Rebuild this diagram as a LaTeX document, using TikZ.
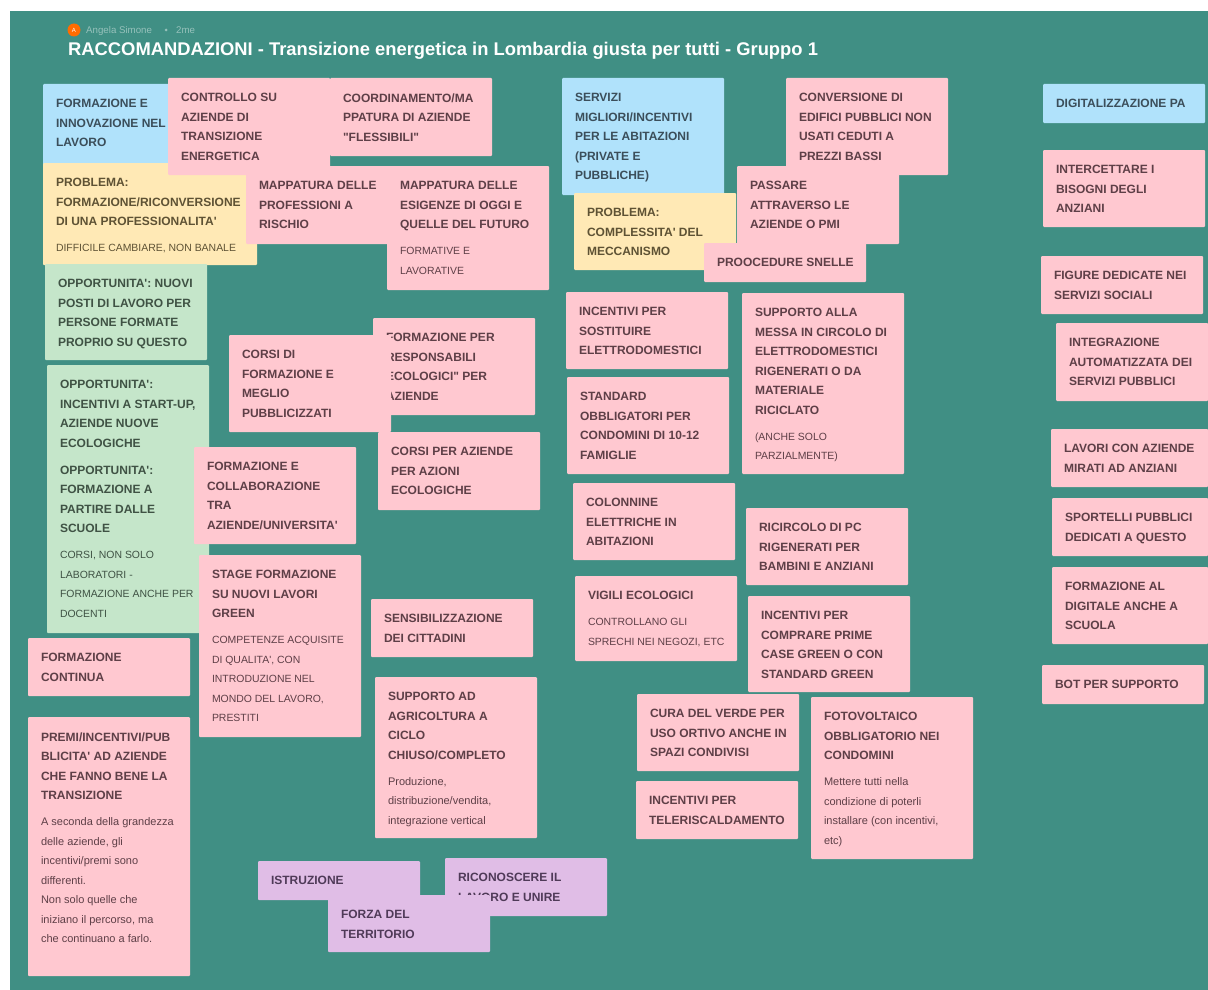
\documentclass[tikz,border=0pt]{standalone}
\usepackage{fontspec}
\setmainfont{Liberation Sans}[Ligatures=TeXOff]
\definecolor{bgteal}{HTML}{408F84}
\definecolor{npink}{HTML}{FFC8D0}
\definecolor{nblue}{HTML}{B0E2FB}
\definecolor{nyellow}{HTML}{FFE9B5}
\definecolor{ngreen}{HTML}{C5E6CA}
\definecolor{npurple}{HTML}{E0BDE6}
\definecolor{tpink}{HTML}{5E3F47}
\definecolor{tblue}{HTML}{3B4E5A}
\definecolor{tyellow}{HTML}{5E5234}
\definecolor{tgreen}{HTML}{3F5244}
\definecolor{tpurple}{HTML}{4F3A58}
\tikzset{
  notebox/.style={rectangle,draw=none,anchor=north west,inner sep=0pt,outer sep=0pt,rounded corners=1pt},
  notetext/.style={anchor=north west,inner sep=0pt,outer sep=0pt,align=left,font=\fontsize{12}{19.5}\bfseries\selectfont},
  pinknote/.style={notebox,fill=npink},
  bluenote/.style={notebox,fill=nblue},
  yellownote/.style={notebox,fill=nyellow},
  greennote/.style={notebox,fill=ngreen},
  purplenote/.style={notebox,fill=npurple},
  metatext/.style={anchor=west,inner sep=0pt,text=bgteal!55!white,font=\fontsize{9.7}{11}\selectfont},
}
% \note{colour}{name}{x0}{y0}{x1}{y1}{text}
\newcommand\note[7]{%
  \node[#1note,minimum width={(#5-#3)*1pt},minimum height={(#6-#4)*1pt}] (#2) at (#3,#4) {};
  \node[notetext,text=t#1,xshift=13pt,yshift=-15.5pt] (#2text) at (#2.north west) {#7};
}
\newcommand\subt[1]{{\fontsize{10.45}{19.5}\mdseries\selectfont #1}}
\newcommand\subl[1]{{\fontsize{11}{19.5}\mdseries\selectfont #1}}
\newcommand\subgap{\\[6.5pt]}
\begin{document}
\begin{tikzpicture}[x=1pt,y=-1pt]
\useasboundingbox (0,0) rectangle (1208,990);
\fill[bgteal] (10,11) rectangle (1208,990);
\node[circle,fill=orange!85!red,minimum size=13pt,inner sep=0pt,text=white,font=\fontsize{6}{7}\selectfont] (avatar) at (74,30) {A};
\node[metatext] (author) at (86,30.5) {Angela Simone};
\node[circle,fill=bgteal!55!white,minimum size=3pt,inner sep=0pt] (sep) at (166,30) {};
\node[metatext] (age) at (176,30.5) {2me};
\node[anchor=west,inner sep=0pt,text=white,font=\fontsize{18.36}{21}\bfseries\selectfont] (title) at (68,51) {RACCOMANDAZIONI - Transizione energetica in Lombardia giusta per tutti - Gruppo 1};

\note{blue}{n1}{43}{84}{205}{165}{FORMAZIONE E\\INNOVAZIONE NEL\\LAVORO}
\note{yellow}{n2}{43}{163}{257}{265}{PROBLEMA:\\FORMAZIONE/RICONVERSIONE\\DI UNA PROFESSIONALITA'\subgap\subt{DIFFICILE CAMBIARE, NON BANALE}}
\note{pink}{n3}{168}{78}{330}{175}{CONTROLLO SU\\AZIENDE DI\\TRANSIZIONE\\ENERGETICA}
\note{pink}{n4}{330}{78}{492}{156}{COORDINAMENTO/MA\\PPATURA DI AZIENDE\\"FLESSIBILI"}
\note{pink}{n5}{246}{166}{408}{244}{MAPPATURA DELLE\\PROFESSIONI A\\RISCHIO}
\note{pink}{n6}{387}{166}{549}{290}{MAPPATURA DELLE\\ESIGENZE DI OGGI E\\QUELLE DEL FUTURO\subgap\subt{FORMATIVE E}\\\subt{LAVORATIVE}}
\note{green}{n7}{45}{264}{207}{360}{OPPORTUNITA': NUOVI\\POSTI DI LAVORO PER\\PERSONE FORMATE\\PROPRIO SU QUESTO}
\note{green}{n8}{47}{365}{209}{633}{OPPORTUNITA':\\INCENTIVI A START-UP,\\AZIENDE NUOVE\\ECOLOGICHE\\[7.5pt]OPPORTUNITA':\\FORMAZIONE A\\PARTIRE DALLE\\SCUOLE\subgap\subt{CORSI, NON SOLO}\\\subt{LABORATORI -}\\\subt{FORMAZIONE ANCHE PER}\\\subt{DOCENTI}}
\note{pink}{n9}{373}{318}{535}{415}{FORMAZIONE PER\\RESPONSABILI\\ECOLOGICI" PER\\AZIENDE}
\note{pink}{n10}{229}{335}{391}{432}{CORSI DI\\FORMAZIONE E\\MEGLIO\\PUBBLICIZZATI}
\note{pink}{n11}{378}{432}{540}{510}{CORSI PER AZIENDE\\PER AZIONI\\ECOLOGICHE}
\note{pink}{n12}{194}{447}{356}{544}{FORMAZIONE E\\COLLABORAZIONE\\TRA\\AZIENDE/UNIVERSITA'}
\note{pink}{n13}{199}{555}{361}{737}{STAGE FORMAZIONE\\SU NUOVI LAVORI\\GREEN\subgap\subt{COMPETENZE ACQUISITE}\\\subt{DI QUALITA', CON}\\\subt{INTRODUZIONE NEL}\\\subt{MONDO DEL LAVORO,}\\\subt{PRESTITI}}
\note{pink}{n14}{28}{638}{190}{696}{FORMAZIONE\\CONTINUA}
\note{pink}{n15}{28}{717}{190}{976}{PREMI/INCENTIVI/PUB\\BLICITA' AD AZIENDE\\CHE FANNO BENE LA\\TRANSIZIONE\subgap\subl{A seconda della grandezza}\\\subl{delle aziende, gli}\\\subl{incentivi/premi sono}\\\subl{differenti.}\\\subl{Non solo quelle che}\\\subl{iniziano il percorso, ma}\\\subl{che continuano a farlo.}}
\note{pink}{n16}{371}{599}{533}{657}{SENSIBILIZZAZIONE\\DEI CITTADINI}
\note{pink}{n17}{375}{677}{537}{838}{SUPPORTO AD\\AGRICOLTURA A\\CICLO\\CHIUSO/COMPLETO\subgap\subl{Produzione,}\\\subl{distribuzione/vendita,}\\\subl{integrazione vertical}}
\note{purple}{n18}{258}{861}{420}{900}{ISTRUZIONE}
\note{purple}{n19}{445}{858}{607}{916}{RICONOSCERE IL\\LAVORO E UNIRE}
\note{purple}{n20}{328}{895}{490}{952}{FORZA DEL\\TERRITORIO}
\note{blue}{n21}{562}{78}{724}{195}{SERVIZI\\MIGLIORI/INCENTIVI\\PER LE ABITAZIONI\\(PRIVATE E\\PUBBLICHE)}
\note{pink}{n22}{786}{78}{948}{175}{CONVERSIONE DI\\EDIFICI PUBBLICI NON\\USATI CEDUTI A\\PREZZI BASSI}
\note{yellow}{n23}{574}{193}{736}{270}{PROBLEMA:\\COMPLESSITA' DEL\\MECCANISMO}
\note{pink}{n24}{737}{166}{899}{244}{PASSARE\\ATTRAVERSO LE\\AZIENDE O PMI}
\note{pink}{n25}{704}{243}{866}{282}{PROOCEDURE SNELLE}
\note{pink}{n26}{566}{292}{728}{369}{INCENTIVI PER\\SOSTITUIRE\\ELETTRODOMESTICI}
\note{pink}{n27}{567}{377}{729}{474}{STANDARD\\OBBLIGATORI PER\\CONDOMINI DI 10-12\\FAMIGLIE}
\note{pink}{n28}{742}{293}{904}{474}{SUPPORTO ALLA\\MESSA IN CIRCOLO DI\\ELETTRODOMESTICI\\RIGENERATI O DA\\MATERIALE\\RICICLATO\subgap\subt{(ANCHE SOLO}\\\subt{PARZIALMENTE)}}
\note{pink}{n29}{573}{483}{735}{560}{COLONNINE\\ELETTRICHE IN\\ABITAZIONI}
\note{pink}{n30}{575}{576}{737}{661}{VIGILI ECOLOGICI\subgap\subt{CONTROLLANO GLI}\\\subt{SPRECHI NEI NEGOZI, ETC}}
\note{pink}{n31}{746}{508}{908}{585}{RICIRCOLO DI PC\\RIGENERATI PER\\BAMBINI E ANZIANI}
\note{pink}{n32}{748}{596}{910}{692}{INCENTIVI PER\\COMPRARE PRIME\\CASE GREEN O CON\\STANDARD GREEN}
\note{pink}{n33}{637}{694}{799}{771}{CURA DEL VERDE PER\\USO ORTIVO ANCHE IN\\SPAZI CONDIVISI}
\note{pink}{n34}{636}{781}{798}{839}{INCENTIVI PER\\TELERISCALDAMENTO}
\note{pink}{n35}{811}{697}{973}{859}{FOTOVOLTAICO\\OBBLIGATORIO NEI\\CONDOMINI\subgap\subl{Mettere tutti nella}\\\subl{condizione di poterli}\\\subl{installare (con incentivi,}\\\subl{etc)}}
\note{blue}{n36}{1043}{84}{1205}{123}{DIGITALIZZAZIONE PA}
\note{pink}{n37}{1043}{150}{1205}{227}{INTERCETTARE I\\BISOGNI DEGLI\\ANZIANI}
\note{pink}{n38}{1041}{256}{1203}{314}{FIGURE DEDICATE NEI\\SERVIZI SOCIALI}
\note{pink}{n39}{1056}{323}{1208}{401}{INTEGRAZIONE\\AUTOMATIZZATA DEI\\SERVIZI PUBBLICI}
\note{pink}{n40}{1051}{429}{1208}{487}{LAVORI CON AZIENDE\\MIRATI AD ANZIANI}
\note{pink}{n41}{1052}{498}{1208}{556}{SPORTELLI PUBBLICI\\DEDICATI A QUESTO}
\note{pink}{n42}{1052}{567}{1208}{644}{FORMAZIONE AL\\DIGITALE ANCHE A\\SCUOLA}
\note{pink}{n43}{1042}{665}{1204}{704}{BOT PER SUPPORTO}
\end{tikzpicture}
\end{document}
